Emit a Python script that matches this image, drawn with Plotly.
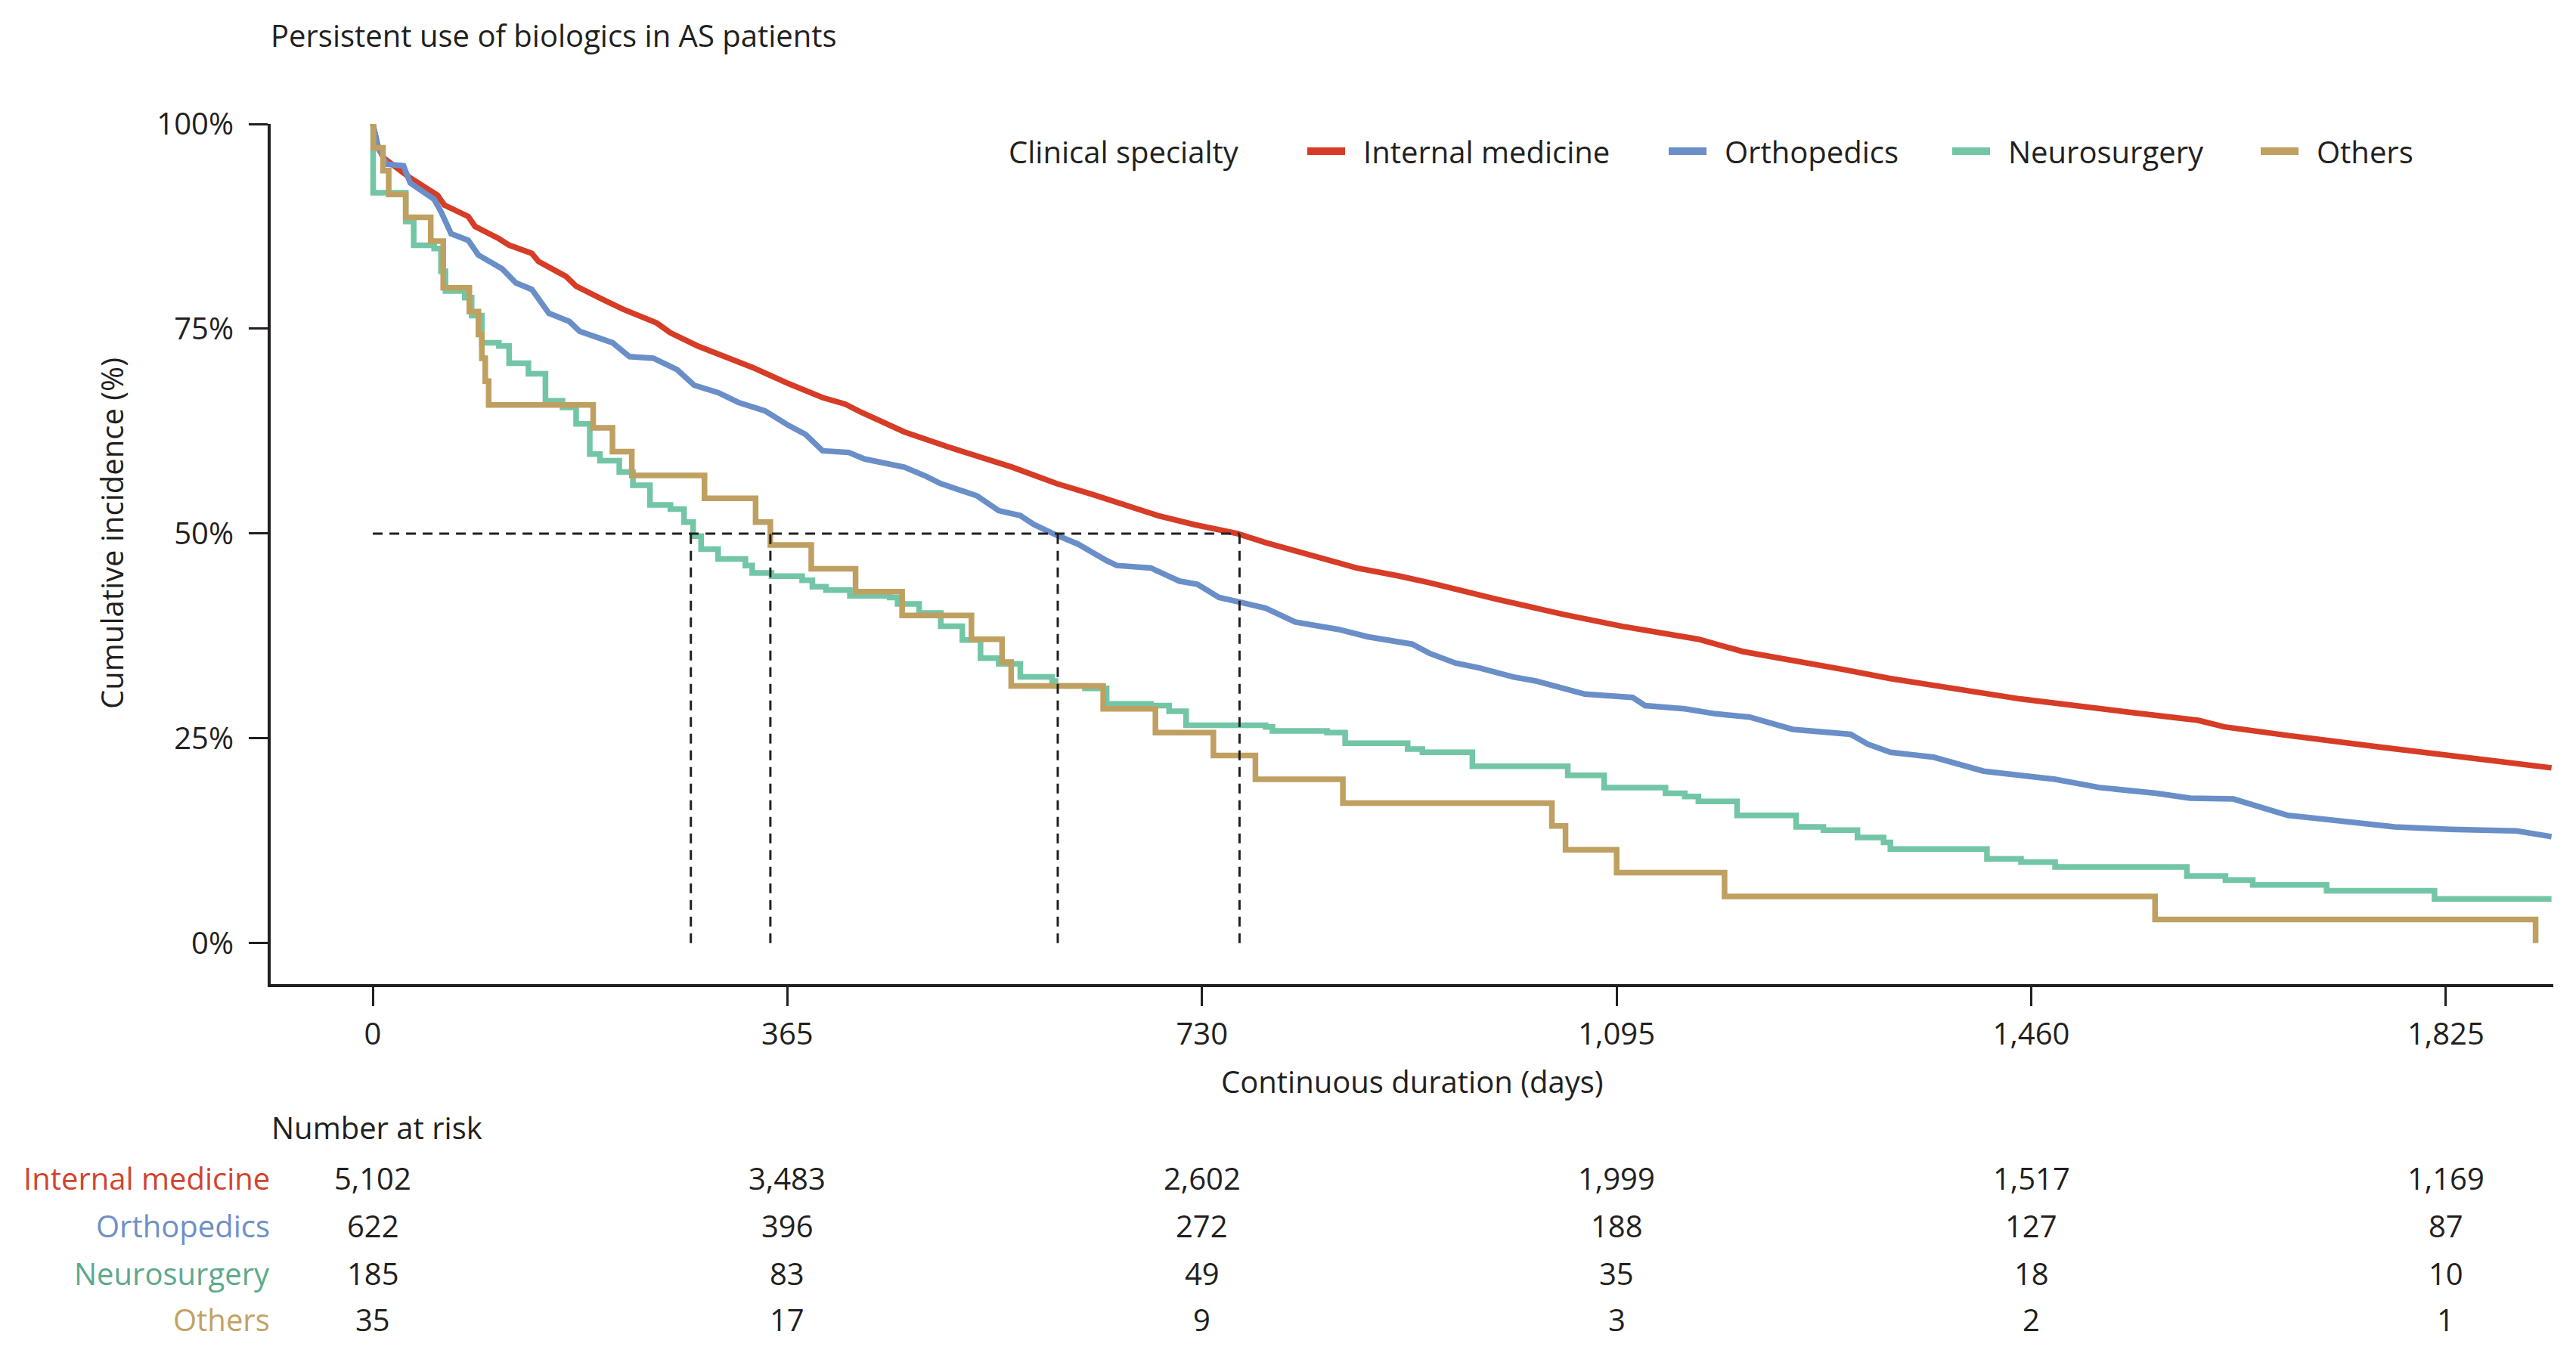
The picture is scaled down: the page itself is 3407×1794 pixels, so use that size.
import plotly.graph_objects as go

# Kaplan-Meier style curves (days, % still on biologics)
im_days = [0, 5, 10, 33, 57, 63, 84, 90, 111, 120, 140, 146, 170, 179, 202, 220, 250, 262, 286, 307,
           334, 366, 396, 416, 430, 468, 506, 563, 602, 633, 659, 691, 723, 761, 786, 834, 866, 904,
           930, 989, 1049, 1099, 1167, 1206, 1257, 1295, 1336, 1377, 1451, 1546, 1607, 1630, 1673,
           1689, 1769, 1851, 1918]
im_pct = [100, 97.0, 95.8, 93.4, 91.3, 90.1, 88.7, 87.5, 86.0, 85.2, 84.2, 83.2, 81.4, 80.2, 78.6, 77.4,
          75.7, 74.5, 72.9, 71.8, 70.3, 68.3, 66.6, 65.8, 64.8, 62.4, 60.6, 58.1, 56.1, 54.8, 53.7, 52.2,
          51.1, 50.0, 48.9, 47.1, 45.8, 44.8, 44.0, 42.0, 40.1, 38.7, 37.1, 35.6, 34.4, 33.4, 32.3, 31.4,
          29.8, 28.2, 27.2, 26.4, 25.7, 25.3, 23.9, 22.5, 21.4]

ortho_days = [0, 4, 12, 27, 33, 54, 60, 69, 84, 93, 114, 126, 140, 155, 173, 182, 211, 226, 247, 268,
              283, 304, 322, 345, 366, 381, 396, 419, 433, 468, 487, 500, 532, 551, 570, 582, 602, 621,
              646, 655, 685, 710, 726, 745, 764, 786, 812, 850, 876, 904, 915, 930, 953, 974, 1004, 1024,
              1048, 1067, 1109, 1120, 1155, 1182, 1212, 1250, 1301, 1316, 1336, 1374, 1418, 1481, 1520,
              1570, 1600, 1638, 1686, 1740, 1780, 1829, 1887, 1918]
ortho_pct = [100, 97.5, 95.1, 94.9, 92.8, 90.8, 89.3, 86.6, 85.8, 84.0, 82.3, 80.6, 79.8, 76.9, 75.9,
             74.7, 73.3, 71.6, 71.4, 70.0, 68.1, 67.2, 66.0, 65.0, 63.2, 62.1, 60.1, 59.9, 59.1, 58.1,
             57.0, 56.1, 54.6, 52.8, 52.2, 51.1, 49.8, 48.7, 46.7, 46.1, 45.8, 44.2, 43.8, 42.2, 41.6,
             40.9, 39.2, 38.3, 37.4, 36.8, 36.5, 35.4, 34.2, 33.6, 32.5, 32.0, 31.2, 30.4, 30.0, 29.0,
             28.6, 28.0, 27.6, 26.1, 25.5, 24.3, 23.3, 22.7, 21.0, 20.0, 19.0, 18.3, 17.7, 17.6, 15.6,
             14.7, 14.2, 13.9, 13.7, 13.0]

neuro_days = [0, 0.3, 29, 36, 54, 60, 64, 81, 87, 96, 111, 120, 137, 152, 167, 179, 191, 200, 217, 229,
              244, 262, 274, 282, 289, 304, 328, 334, 351, 378, 387, 399, 420, 455, 462, 481, 500, 519,
              535, 551, 570, 598, 601, 627, 646, 685, 701, 716, 786, 792, 840, 856, 911, 924, 968, 1052,
              1084, 1138, 1155, 1167, 1201, 1253, 1277, 1307, 1330, 1336, 1421, 1451, 1481, 1597, 1631,
              1655, 1720, 1815, 1918]
neuro_pct = [100, 91.6, 88.1, 85.2, 84.8, 82.0, 79.6, 78.8, 76.6, 73.3, 72.9, 70.8, 69.5, 66.2, 65.4,
             63.4, 59.7, 58.9, 57.5, 55.9, 53.5, 53.0, 51.4, 49.7, 48.1, 46.9, 46.1, 45.2, 44.8, 44.3,
             43.5, 43.1, 42.4, 42.2, 41.4, 40.3, 38.7, 37.0, 34.8, 34.1, 32.5, 32.0, 31.4, 31.1, 29.2,
             29.0, 28.3, 26.6, 26.4, 25.9, 25.7, 24.4, 23.7, 23.3, 21.6, 20.5, 19.0, 18.3, 17.9, 17.3,
             15.6, 14.2, 13.8, 12.9, 12.3, 11.5, 10.3, 9.9, 9.3, 8.2, 7.7, 7.1, 6.4, 5.4, 5.4]

others_days = [0, 0.5, 9, 14, 29, 51, 62, 85, 93, 96, 99, 102, 194, 211, 228, 292, 337, 350, 386, 425,
               466, 527, 554, 562, 643, 689, 740, 777, 854, 1038, 1050, 1095, 1190, 1569, 1904]
others_pct = [100, 97.1, 94.3, 91.4, 88.6, 85.7, 80.0, 77.1, 74.3, 71.4, 68.6, 65.7, 62.9, 60.0, 57.1,
              54.3, 51.4, 48.6, 45.7, 42.9, 40.0, 37.1, 34.3, 31.4, 28.6, 25.7, 22.9, 20.0, 17.1, 14.3,
              11.4, 8.6, 5.7, 2.9, 0]

# median persistence (days): Neurosurgery, Others, Orthopedics, Internal medicine
median_days = [280, 350, 603, 763]

groups = ["Internal medicine", "Orthopedics", "Neurosurgery", "Others"]
colors = ["#D63C26", "#6A8FC8", "#72C6A6", "#BFA061"]
label_colors = ["#D2432E", "#6E90C6", "#5DA98B", "#C2A264"]

tick_days = [0, 365, 730, 1095, 1460, 1825]
tick_text = ["0", "365", "730", "1,095", "1,460", "1,825"]

risk_im = [5102, 3483, 2602, 1999, 1517, 1169]
risk_ortho = [622, 396, 272, 188, 127, 87]
risk_neuro = [185, 83, 49, 35, 18, 10]
risk_others = [35, 17, 9, 3, 2, 1]

FONT = "Open Sans"
INK = "#231F20"
# page body keeps its default 8px margin, so the figure is 16px smaller than the window
W, H = 3391, 1778
L, R, T, B = 350, 22, 156, 484
PW, PH = W - L - R, H - T - B


def px_x(p):
    # figure pixel column -> paper x
    return (p - L) / PW


def px_y(p):
    # figure pixel row -> paper y
    return (H - B - p) / PH


fig = go.Figure()

series = [(im_days, im_pct, "linear"), (ortho_days, ortho_pct, "linear"),
          (neuro_days, neuro_pct, "hv"), (others_days, others_pct, "hv")]
for (xs, ys, shape), name, col in zip(series, groups, colors):
    fig.add_trace(go.Scatter(x=xs, y=ys, mode="lines", name=name, showlegend=False,
                             line=dict(color=col, width=7.5, shape=shape)))

# dashed guide lines at the medians
dx, dy = [0, max(median_days), None], [50, 50, None]
for m in median_days:
    dx += [m, m, None]
    dy += [0, 50, None]
fig.add_trace(go.Scatter(x=dx, y=dy, mode="lines", showlegend=False, hoverinfo="skip",
                         line=dict(color=INK, width=3, dash="13px,9px")))

fig.update_layout(
    width=W, height=H, autosize=False,
    paper_bgcolor="white", plot_bgcolor="white",
    margin=dict(l=L, r=R, t=T, b=B),
    font=dict(family=FONT, size=40, color=INK),
    title=dict(text="Persistent use of biologics in AS patients", x=L / W, xanchor="left",
               y=1 - 40 / H, yanchor="middle", font=dict(size=40)),
    showlegend=False,
)

fig.update_xaxes(range=[-89.9, 1919.6], tickvals=tick_days, ticktext=tick_text, ticks="outside",
                 ticklen=25, tickwidth=3, tickcolor=INK, showline=True, linewidth=4, linecolor=INK,
                 showgrid=False, zeroline=False, tickfont=dict(size=40), ticklabelstandoff=3)
fig.update_yaxes(range=[-5.0, 100], tickvals=[0, 25, 50, 75, 100],
                 ticktext=["0%", "25%", "50%", "75%", "100%"], ticks="outside", ticklen=25,
                 tickwidth=3, tickcolor=INK, showline=True, linewidth=4, linecolor=INK,
                 showgrid=False, zeroline=False, tickfont=dict(size=40), ticklabelstandoff=12)

# legend drawn by hand: title, short thick swatches and labels
leg_y = px_y(192)
fig.add_annotation(text="Clinical specialty", xref="paper", x=px_x(1324), xanchor="left",
                   yref="paper", y=leg_y, yanchor="middle", showarrow=False)
for name, col, sx in zip(groups, colors, [1721, 2199, 2574, 2982]):
    fig.add_shape(type="line", xref="paper", yref="paper", x0=px_x(sx), x1=px_x(sx + 50),
                  y0=leg_y, y1=leg_y, line=dict(color=col, width=10))
    fig.add_annotation(text=name, xref="paper", x=px_x(sx + 72), xanchor="left", yref="paper",
                       y=leg_y, yanchor="middle", showarrow=False)

# axis titles
fig.add_annotation(text="Cumulative incidence (%)", xref="paper", x=0, xshift=-210, xanchor="center",
                   yref="y", y=50, yanchor="middle", textangle=-90, showarrow=False)
fig.add_annotation(text="Continuous duration (days)", xref="paper", x=0.5, yref="paper", y=0,
                   yanchor="middle", yshift=-128, showarrow=False)

# number at risk table
fig.add_annotation(text="Number at risk", xref="paper", x=0, xshift=-1, xanchor="left", yref="paper",
                   y=0, yanchor="middle", yshift=-189, showarrow=False)
row_shift = [-256, -319, -382, -443]
for name, lc, risk, ys in zip(groups, label_colors, [risk_im, risk_ortho, risk_neuro, risk_others],
                              row_shift):
    fig.add_annotation(text=name, xref="paper", x=0, xshift=1, xanchor="right", yref="paper", y=0,
                       yanchor="middle", yshift=ys, showarrow=False, font=dict(color=lc))
    for d, n in zip(tick_days, risk):
        fig.add_annotation(text=f"{n:,}", xref="x", x=d, xanchor="center", yref="paper", y=0,
                           yanchor="middle", yshift=ys, showarrow=False)

fig.write_html("out.html")
